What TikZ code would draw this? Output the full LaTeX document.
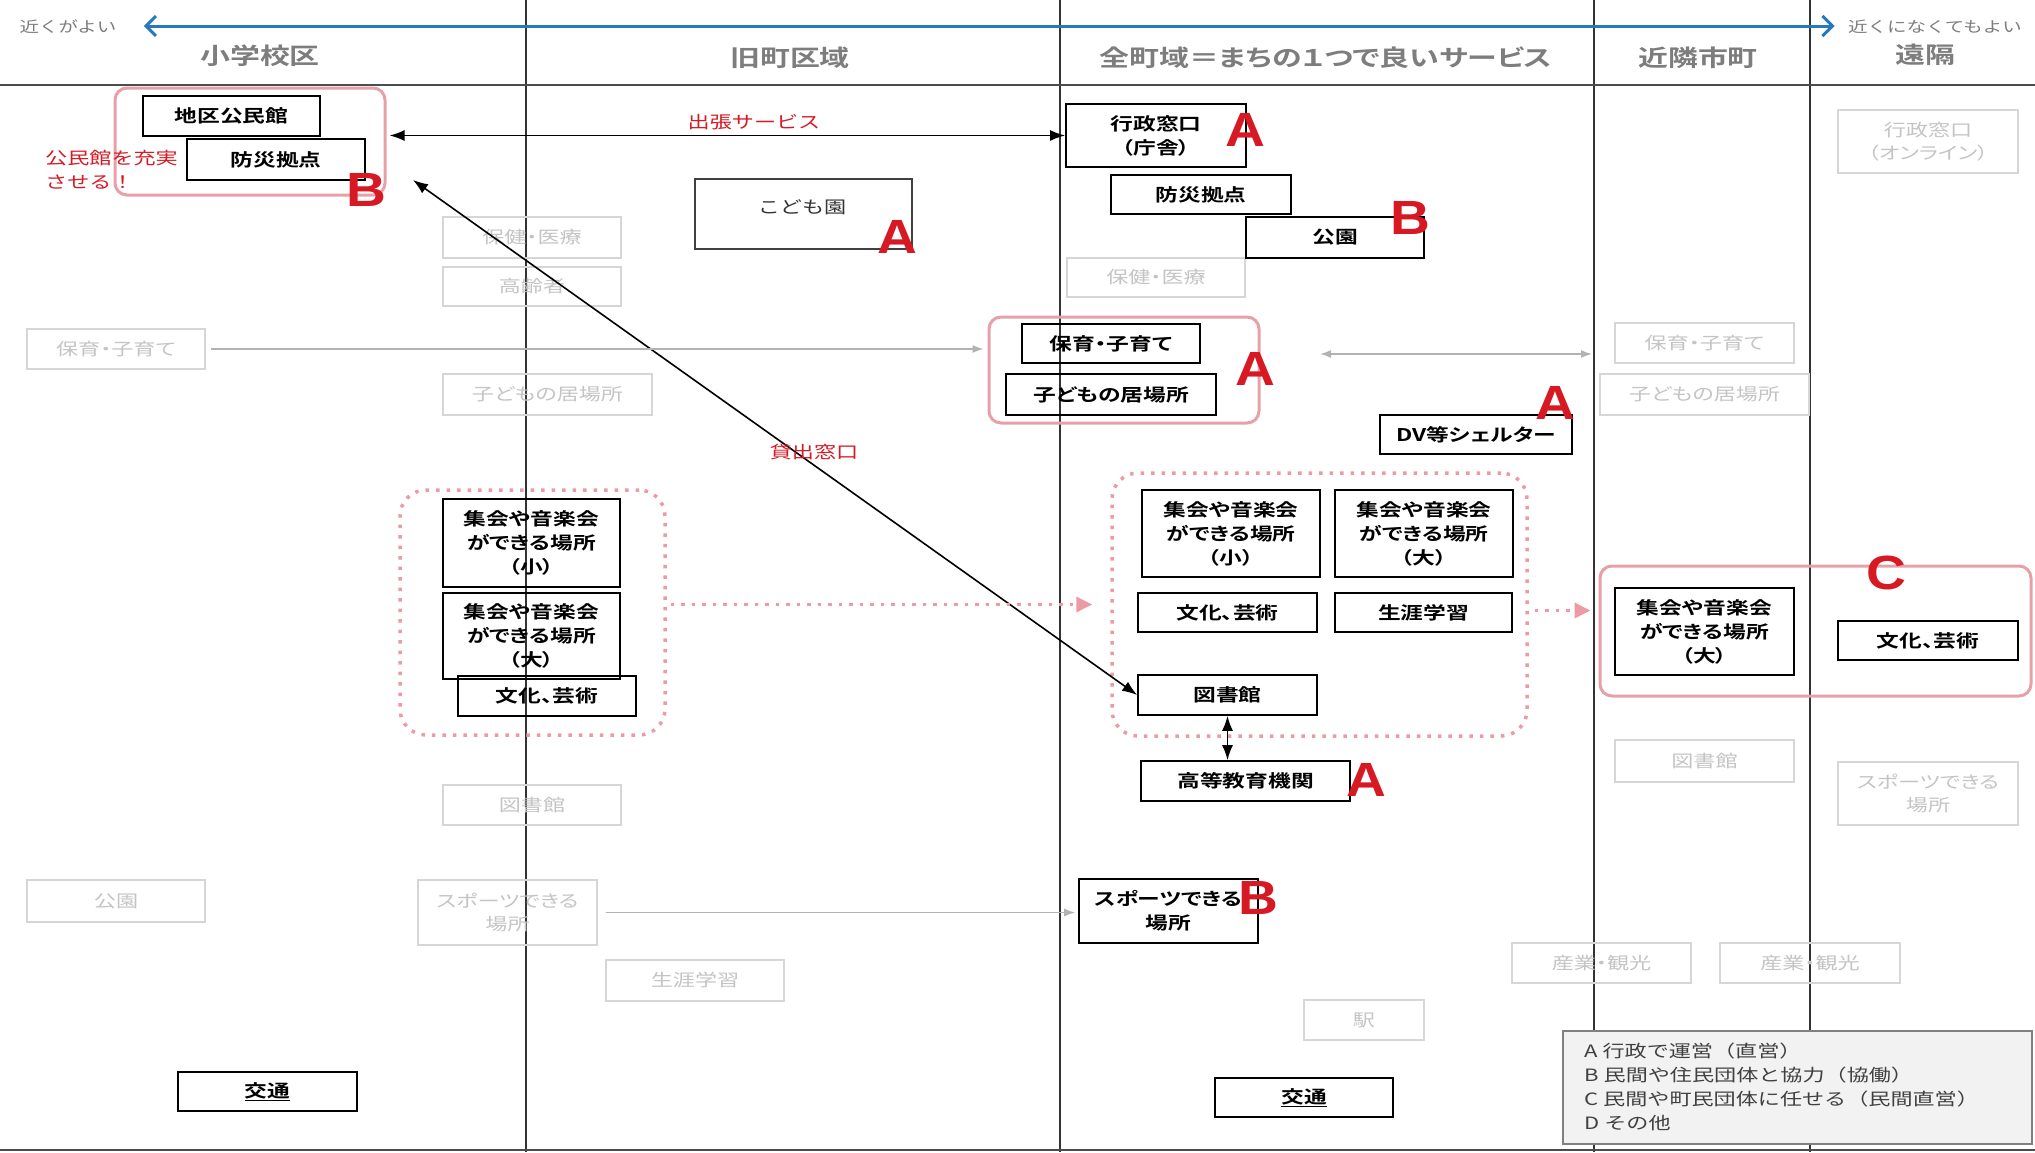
\documentclass[tikz,border=0pt]{standalone}
\usepackage{fontspec}
\setmainfont{Noto Sans CJK JP}[FakeStretch=1.3,BoldFont={Noto Sans CJK JP Bold}]
\newfontfamily\pfont{Noto Sans CJK JP}[FakeStretch=1.3,RawFeature=+palt,BoldFont={Noto Sans CJK JP Bold}]
\newfontfamily\abcfont{Liberation Sans}[FakeStretch=1.15]
\usetikzlibrary{arrows.meta}
\definecolor{myred}{RGB}{215,25,35}
\definecolor{pinkline}{RGB}{232,160,168}
\definecolor{pinkdot}{RGB}{236,155,165}
\definecolor{fadeline}{RGB}{214,214,214}
\definecolor{fadetext}{RGB}{196,196,196}
\definecolor{hdrgray}{RGB}{125,125,125}
\definecolor{bluearr}{RGB}{40,120,190}
\definecolor{legfill}{RGB}{242,242,242}
\tikzset{
  bbox/.style={draw=black,line width=1.7pt,align=center,inner sep=0pt,font=\pfont\bfseries\fontsize{17.5}{24}\selectfont},
  fbox/.style={draw=fadeline,line width=1.3pt,align=center,inner sep=0pt,text=fadetext,font=\pfont\fontsize{17}{23}\selectfont},
  pinkbox/.style={draw=pinkline,line width=3pt,rounded corners=12pt,inner sep=0pt},
  dotbox/.style={draw=pinkdot,line width=3.5pt,rounded corners=26pt,dash pattern=on 3.5pt off 7pt,inner sep=0pt},
  hdr/.style={text=hdrgray,font=\pfont\bfseries\fontsize{23}{28}\selectfont},
  neartxt/.style={text=hdrgray,font=\fontsize{15}{18}\selectfont},
  letter/.style={text=myred,font=\abcfont\bfseries\fontsize{48}{50}\selectfont,inner sep=0pt},
  redtxt/.style={text=myred,font=\fontsize{17}{24}\selectfont,align=left},
  vline/.style={draw=black!80,line width=1.8pt},
  hline/.style={draw=black!70,line width=2pt},
  blk/.style={draw=black,line width=1.6pt,{Latex[length=15pt,width=11pt]}-{Latex[length=15pt,width=11pt]}},
  gry/.style={draw=black!30,line width=1.5pt},
  pdot/.style={draw=pinkdot,line width=3.5pt,dash pattern=on 3.5pt off 7pt,-{Triangle[length=16pt,width=15pt,fill=pinkdot]}},
}
\newcommand\bx[7]{\node[#1,minimum width={(#5-#3)*1pt},minimum height={(#6-#4)*1pt}] (#2) at ({(#3+#5)/2},{(#4+#6)/2}) {#7};}
\begin{document}
\begin{tikzpicture}[x=1pt,y=-1pt]
\useasboundingbox (0,0) rectangle (2035,1152);
\fill[white] (0,0) rectangle (2035,1152);

% grid lines
\draw[vline] (526,0) -- (526,1152);
\draw[vline] (1060,0) -- (1060,1152);
\draw[vline] (1594,0) -- (1594,1152);
\draw[vline] (1810,0) -- (1810,1152);
\draw[hline] (0,85) -- (2035,85);
\draw[hline] (0,1150) -- (2035,1150);

% headers
\node[hdr] (h1) at (260,56) {小学校区};
\node[hdr] (h2) at (790,58) {旧町区域};
\node[hdr] (h3) at (1326,58) {全町域＝まちの１つで良いサービス};
\node[hdr] (h4) at (1698,58) {近隣市町};
\node[hdr] (h5) at (1925,55) {遠隔};
\node[neartxt] (near) at (68,27) {近くがよい};
\node[neartxt] (far) at (1935,27) {近くになくてもよい};
\draw[draw=bluearr,line width=3pt,{Straight Barb[length=10pt,width=20pt,line width=3pt]}-{Straight Barb[length=10pt,width=20pt,line width=3pt]}] ([xshift=24pt,yshift=1pt]near.east) -- ([xshift=-10pt,yshift=1pt]far.west);

% faded boxes
\bx{fbox}{hokenL}{443}{217}{621}{258}{保健・医療}
\bx{fbox}{koreiL}{443}{267}{621}{306}{高齢者}
\bx{fbox}{hoikuF}{27}{329}{205}{369}{保育・子育て}
\bx{fbox}{ibashoF}{443}{374}{652}{415}{子どもの居場所}
\bx{fbox}{hokenC}{1067}{258}{1245}{297}{保健・医療}
\bx{fbox}{hoikuN}{1615}{323}{1794}{363}{保育・子育て}
\bx{fbox}{ibashoN}{1600}{374}{1809}{415}{子どもの居場所}
\bx{fbox}{onlineR}{1838}{110}{2018}{173}{行政窓口\\（オンライン）}
\bx{fbox}{libraryF}{443}{785}{621}{825}{図書館}
\bx{fbox}{koenF}{27}{880}{205}{922}{公園}
\bx{fbox}{sportsF}{418}{880}{597}{945}{スポーツできる\\場所}
\bx{fbox}{shogaiF}{606}{960}{784}{1001}{生涯学習}
\bx{fbox}{libraryN}{1615}{740}{1794}{782}{図書館}
\bx{fbox}{sportsR}{1838}{762}{2018}{825}{スポーツできる\\場所}
\bx{fbox}{eki}{1304}{1000}{1424}{1040}{駅}
\bx{fbox}{sangyoA}{1512}{943}{1691}{983}{産業・観光}
\bx{fbox}{sangyoB}{1720}{943}{1900}{983}{産業・観光}

% pink groups
\bx{pinkbox}{pinkA}{115}{88}{385}{195}{}
\bx{pinkbox}{pinkB}{989}{317}{1259}{423}{}
\bx{pinkbox}{pinkC}{1600}{566}{2031}{696}{}
\bx{dotbox}{dotL}{400}{490}{665}{735}{}
\bx{dotbox}{dotC}{1112}{473}{1527}{736}{}

% black boxes
\bx{bbox}{kominkan}{143}{96}{320}{136}{地区公民館}
\bx{bbox}{bousaiL}{187}{139}{365}{180}{防災拠点}
\bx{bbox}{gyosei}{1066}{104}{1246}{167}{行政窓口\\（庁舎）}
\bx{bbox}{bousaiC}{1111}{175}{1291}{214}{防災拠点}
\bx{bbox}{koen}{1246}{217}{1424}{258}{公園}
\bx{bbox}{hoikuC}{1022}{324}{1200}{363}{保育・子育て}
\bx{bbox}{ibashoC}{1006}{374}{1216}{415}{子どもの居場所}
\bx{bbox}{dv}{1380}{415}{1572}{454}{DV等シェルター}
\bx{bbox}{shukaiSL}{443}{499}{620}{587}{集会や音楽会\\ができる場所\\（小）}
\bx{bbox}{shukaiLL}{443}{593}{620}{679}{集会や音楽会\\ができる場所\\（大）}
\bx{bbox}{bunkaL}{458}{676}{636}{716}{文化、芸術}
\bx{bbox}{shukaiSC}{1142}{490}{1320}{577}{集会や音楽会\\ができる場所\\（小）}
\bx{bbox}{shukaiLC}{1335}{490}{1513}{577}{集会や音楽会\\ができる場所\\（大）}
\bx{bbox}{bunkaC}{1138}{593}{1317}{632}{文化、芸術}
\bx{bbox}{shogaiC}{1335}{593}{1512}{632}{生涯学習}
\bx{bbox}{library}{1138}{675}{1317}{715}{図書館}
\bx{bbox}{koto}{1141}{761}{1350}{801}{高等教育機関}
\bx{bbox}{sports}{1079}{879}{1258}{943}{スポーツできる\\場所}
\bx{bbox}{shukaiLN}{1615}{588}{1794}{675}{集会や音楽会\\ができる場所\\（大）}
\bx{bbox}{bunkaR}{1838}{621}{2018}{660}{文化、芸術}
\bx{bbox}{kotsuL}{178}{1072}{357}{1111}{\underline{交通}}
\bx{bbox}{kotsuC}{1215}{1078}{1393}{1117}{\underline{交通}}

% kodomoen
\bx{draw=black!75,line width=1.3pt,inner sep=0pt}{kodomoen}{695}{179}{912}{249}{}
\node[text=black!80,font=\fontsize{17}{22}\selectfont] (kodomoenT) at (802,207) {こども園};

% legend
\bx{draw=black!50,fill=legfill,line width=1.3pt,inner sep=0pt}{legend}{1563}{1031}{2032}{1144}{}
\node[anchor=west,align=left,text=black!75,font=\fontsize{17}{24}\selectfont,inner sep=0pt] (legendT) at (1584,1087) {A 行政で運営（直営）\\B 民間や住民団体と協力（協働）\\C 民間や町民団体に任せる（民間直営）\\D その他};

% connectors
\coordinate (kashiS) at (413,180);
\draw[blk] (kashiS) -- (library.west);
\draw[blk] ([xshift=3pt]gyosei.west -| pinkA.east) -- (gyosei.west);
\draw[blk] (library.south) -- (library.south |- koto.north);
\draw[gry,-{Latex[length=11pt,width=8pt]}] ([xshift=5pt]hoikuF.east) -- ([xshift=-4pt]hoikuF.east -| pinkB.west);
\coordinate (gL) at (1320,354);
\coordinate (gR) at (1592,354);
\draw[gry,{Latex[length=11pt,width=8pt]}-{Latex[length=11pt,width=8pt]}] (gL) -- (gR);
\draw[gry,-{Latex[length=11pt,width=8pt]}] ([xshift=8pt]sportsF.east) -- ([xshift=-3pt]sportsF.east -| sports.west);
\draw[pdot] ([xshift=4pt,yshift=8pt]dotL.east) -- ([xshift=-18pt,yshift=8pt]dotL.east -| dotC.west);
\draw[pdot] ([xshift=6pt,yshift=-6pt]dotC.east) -- ([xshift=-8pt,yshift=-6pt]dotC.east -| pinkC.west);

% red labels
\node[redtxt] (shutcho) at (754,122) {出張サービス};
\node[redtxt] (kashi) at (814,452) {貸出窓口};
\node[redtxt,anchor=west,inner sep=0pt] (juujitsu) at (45,170) {公民館を充実\\させる！};

% letters
\node[letter] (lA1) at (1245,130) {A};
\node[letter] (lB1) at (366,190) {B};
\node[letter] (lA2) at (897,237) {A};
\node[letter] (lB2) at (1410,218) {B};
\node[letter] (lA3) at (1255,369) {A};
\node[letter] (lA4) at (1555,403) {A};
\node[letter] (lC1) at (1886,573) {C};
\node[letter] (lA5) at (1366,780) {A};
\node[letter] (lB3) at (1258,898) {B};
\end{tikzpicture}
\end{document}
